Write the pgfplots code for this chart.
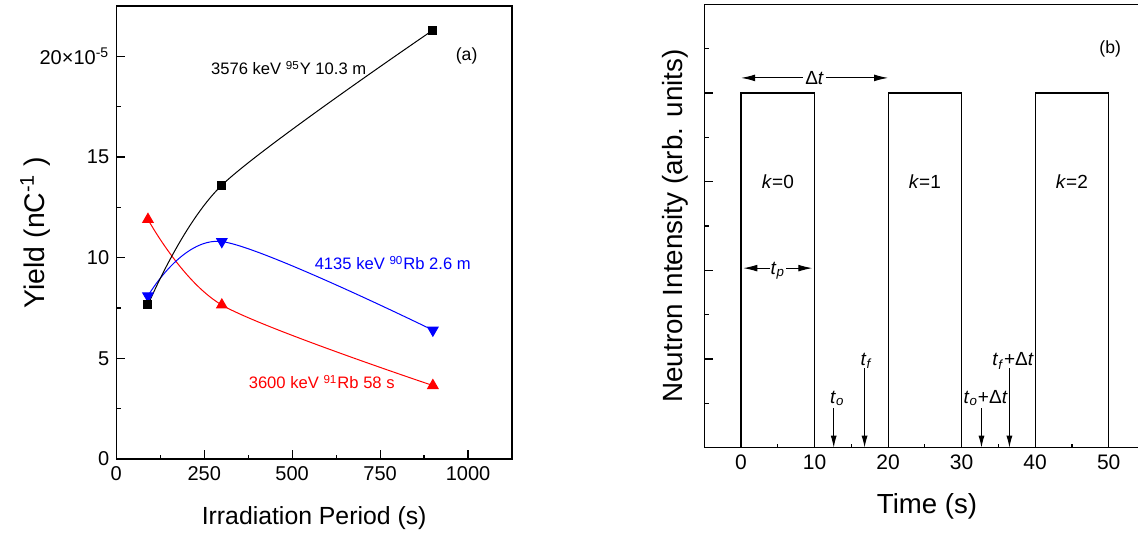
\documentclass[border=0pt]{standalone}
\usepackage{fontspec}
\setmainfont{Liberation Sans}
\usepackage{pgfplots}
\pgfplotsset{compat=1.18}
\usetikzlibrary{arrows.meta}
\begin{document}
\begin{tikzpicture}
\pgfplotsset{
  every axis/.append style={
    scale only axis,
    axis line style={line width=0.6pt},
    every tick/.style={line width=0.6pt, black},
    major tick length=4.3pt, minor tick length=2.1pt,
    tick align=inside, xtick pos=left, ytick pos=left,
    tick label style={font=\fontsize{10}{12}\selectfont},
    /pgf/number format/assume math mode=true,
    /pgf/number format/1000 sep={},
    clip=false,
  }
}
% ---------------- (a) ----------------
\begin{axis}[
  at={(58.15pt,39pt)}, anchor=south west,
  width=197.85pt, height=226.5pt,
  xmin=0, xmax=1125, ymin=0, ymax=22.5,
  xtick={0,250,500,750,1000}, minor x tick num=1,
  ytick={0,5,10,15,20}, minor y tick num=1,
  yticklabels={0,5,10,15,{20×10\textsuperscript{-5}}},
  xlabel={Irradiation Period (s)},
  ylabel={Yield (nC\textsuperscript{-1} )},
  xlabel style={font=\fontsize{12.4}{14}\selectfont, at={(axis description cs:0.5,-0.130)}, anchor=center},
  ylabel style={font=\fontsize{14.2}{16}\selectfont, at={(axis description cs:-0.205,0.5)}, anchor=center},
]
\addplot[red, line width=0.5pt, smooth, mark=triangle*, mark size=3pt, mark options={solid, fill=red}]
  coordinates {(90,11.9) (300,7.65) (900,3.65)};
\addplot[blue, line width=0.5pt, smooth, mark=triangle*, mark size=3pt, mark options={solid, fill=blue, rotate=180}]
  coordinates {(90,8.1) (300,10.8) (900,6.4)};
\addplot[black, line width=0.5pt, smooth, mark=square*, mark size=2pt, mark options={solid, fill=black}]
  coordinates {(90,7.65) (300,13.6) (900,21.3)};
\node[font=\fontsize{8.3}{10}\selectfont, text=black] at (axis cs:490,19.42) {3576 keV \textsuperscript{95}Y 10.3 m};
\node[font=\fontsize{8.3}{10}\selectfont, text=blue] at (axis cs:786,9.74) {4135 keV \textsuperscript{90}Rb 2.6 m};
\node[font=\fontsize{8.3}{10}\selectfont, text=red] at (axis cs:584,3.83) {3600 keV \textsuperscript{91}Rb 58 s};
\node[font=\fontsize{8.8}{10}\selectfont] at (axis cs:996,20.0) {(a)};
\end{axis}
% ---------------- (b) ----------------
\begin{axis}[
  at={(352.15pt,44.65pt)}, anchor=south west,
  width=218.35pt, height=221.7pt,
  xmin=-5, xmax=54.4, ymin=0, ymax=10,
  xtick={0,10,20,30,40,50}, minor x tick num=1,
  ytick={0,2,4,6,8,10}, minor y tick num=1,
  yticklabels={},
  tick label style={font=\fontsize{10.5}{12}\selectfont},
  xlabel={Time (s)},
  ylabel={Neutron Intensity (arb. units)},
  xlabel style={font=\fontsize{13.8}{16}\selectfont, at={(axis description cs:0.51,-0.133)}, anchor=center},
  ylabel style={font=\fontsize{13.9}{16}\selectfont, at={(axis description cs:-0.066,0.5)}, anchor=center},
]
\addplot[black, line width=0.6pt] coordinates {(0,0) (0,8) (10,8) (10,0)};
\addplot[black, line width=0.6pt] coordinates {(20,0) (20,8) (30,8) (30,0)};
\addplot[black, line width=0.6pt] coordinates {(40,0) (40,8) (50,8) (50,0)};
% horizontal arrows
\addplot[black, line width=0.5pt, {Latex[length=7pt,width=3.4pt]}-{Latex[length=7pt,width=3.4pt]}]
  coordinates {(0,8.34) (20,8.34)};
\addplot[black, line width=0.5pt, {Latex[length=7pt,width=3.4pt]}-{Latex[length=7pt,width=3.4pt]}]
  coordinates {(0.3,4.05) (9.7,4.05)};
% vertical arrows
\addplot[black, line width=0.5pt, -{Latex[length=6pt,width=3pt]}] coordinates {(12.6,0.89) (12.6,0)};
\addplot[black, line width=0.5pt, -{Latex[length=6pt,width=3pt]}] coordinates {(16.8,1.79) (16.8,0)};
\addplot[black, line width=0.5pt, -{Latex[length=6pt,width=3pt]}] coordinates {(32.7,0.89) (32.7,0)};
\addplot[black, line width=0.5pt, -{Latex[length=6pt,width=3pt]}] coordinates {(36.5,1.79) (36.5,0)};
\node[fill=white, inner sep=1pt, font=\fontsize{9.5}{11}\selectfont] at (axis cs:10,8.34) {Δ\textit{t}};
\node[fill=white, inner sep=0.5pt, font=\fontsize{9.5}{11}\selectfont] at (axis cs:5,4.0) {\textit{t}\textsubscript{\textit{p}}};
\node[font=\fontsize{9.5}{11}\selectfont] at (axis cs:13.1,1.12) {\textit{t}\textsubscript{\textit{o}}};
\node[font=\fontsize{9.5}{11}\selectfont] at (axis cs:17.06,1.96) {\textit{t}\textsubscript{\textit{f}}};
\node[font=\fontsize{9.5}{11}\selectfont] at (axis cs:33.27,1.12) {\textit{t}\textsubscript{\textit{o}}+Δ\textit{t}};
\node[font=\fontsize{9.5}{11}\selectfont] at (axis cs:37.0,1.96) {\textit{t}\textsubscript{\textit{f}}+Δ\textit{t}};
\node[font=\fontsize{9.5}{11}\selectfont] at (axis cs:5,6) {\textit{k}=0};
\node[font=\fontsize{9.5}{11}\selectfont] at (axis cs:25,6) {\textit{k}=1};
\node[font=\fontsize{9.5}{11}\selectfont] at (axis cs:45,6) {\textit{k}=2};
\node[font=\fontsize{8.8}{10}\selectfont] at (axis cs:50.2,9.0) {(b)};
\end{axis}
\pgfresetboundingbox
\path (0,0) rectangle (569pt,268.5pt);
\end{tikzpicture}
\end{document}
